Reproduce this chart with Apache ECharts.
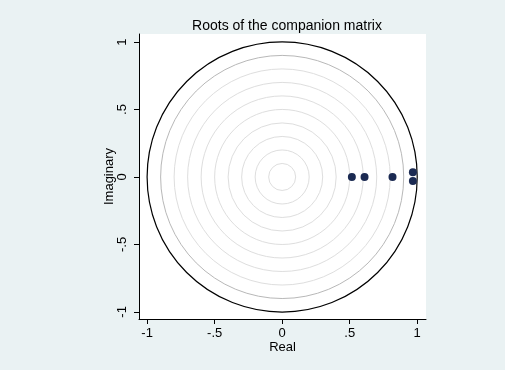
<!DOCTYPE html>
<html><head><meta charset="utf-8">
<script src="https://cdn.jsdelivr.net/npm/echarts@6/dist/echarts.min.js"></script>
<style>html,body{margin:0;padding:0;background:#EAF2F3}#c{width:505px;height:370px}</style>
</head><body><div id="c"></div>
<script>
var realParts = [0.516, 0.61, 0.817, 0.968, 0.968];
var imagParts = [0.0, 0.0, 0.0, 0.035, -0.03];
var gridRadii = [0.1, 0.2, 0.3, 0.4, 0.5, 0.6, 0.7, 0.8, 0.9];
var unitRadius = [1];
var tickValues = [-1, -0.5, 0, 0.5, 1];

function fmt(v){ if (v === 0) return '0'; return String(v).replace('0.', '.'); }

var points = realParts.map(function(x, i){ return [x, imagParts[i]]; });

function circleRenderer(color, width){
  return function(params, api){
    var c = api.coord([0, 0]);
    var r = api.size([api.value(0), 0])[0];
    return {type:'circle', shape:{cx:c[0], cy:c[1], r:r}, style:{fill:null, stroke: (api.value(0) === 0.9 ? '#b8b8b8' : color), lineWidth:width}, silent:true};
  };
}

var font = 'Liberation Sans, Arial, sans-serif';
var chart = echarts.init(document.getElementById('c'));
chart.setOption({
  backgroundColor:'#EAF2F3',
  animation:false,
  title:{text:'Roots of the companion matrix', left:282, top:14, textAlign:'center',
    textStyle:{fontFamily:font, fontSize:14, fontWeight:'normal', color:'#000'}},
  grid:{left:139, right:79, top:34, bottom:51, show:true, backgroundColor:'#fff', borderWidth:0},
  xAxis:{type:'value', min:-1.06, max:1.065, name:'Real', nameLocation:'middle', nameGap:22, nameMoveOverlap:false,
    nameTextStyle:{fontFamily:font, fontSize:13, color:'#000'},
    axisLine:{show:true, onZero:false, lineStyle:{color:'#000', width:1}},
    axisTick:{show:true, length:5, customValues:tickValues, lineStyle:{color:'#000'}},
    axisLabel:{customValues:tickValues, formatter:fmt, fontFamily:font, fontSize:13, color:'#000', margin:8},
    splitLine:{show:false}},
  yAxis:{type:'value', min:-1.053, max:1.06, name:'Imaginary', nameLocation:'middle', nameGap:23, nameRotate:90, nameMoveOverlap:false,
    nameTextStyle:{fontFamily:font, fontSize:13, color:'#000'},
    axisLine:{show:true, onZero:false, lineStyle:{color:'#000', width:1}},
    axisTick:{show:true, length:5, customValues:tickValues, lineStyle:{color:'#000'}},
    axisLabel:{customValues:tickValues, formatter:fmt, rotate:90, fontFamily:font, fontSize:13, color:'#000', margin:10},
    splitLine:{show:false}},
  series:[
    {type:'custom', coordinateSystem:'cartesian2d', data:gridRadii.map(function(r){return [r];}),
      renderItem:circleRenderer('#dedede', 1), clip:false, z:1},
    {type:'custom', coordinateSystem:'cartesian2d', data:unitRadius.map(function(r){return [r];}),
      renderItem:circleRenderer('#000', 1.2), clip:false, z:2},
    {type:'scatter', data:points, symbol:'circle', symbolSize:8, itemStyle:{color:'#1b2a52', opacity:1}, z:3}
  ]
});
</script></body></html>
